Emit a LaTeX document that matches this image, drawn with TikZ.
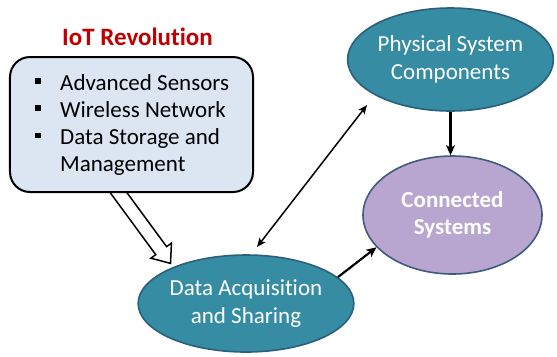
\documentclass[tikz,border=0pt]{standalone}
\usepackage{fontspec}
\setmainfont{Carlito}[RawFeature={-liga;-clig;-dlig}]
\usetikzlibrary{arrows.meta,shapes.geometric,shapes.arrows,calc}

\definecolor{tealfill}{HTML}{358CA3}
\definecolor{tealedge}{HTML}{2A5F7E}
\definecolor{lavfill}{HTML}{B8A6D0}
\definecolor{lavedge}{HTML}{3F5B80}
\definecolor{boxfill}{HTML}{DCE6F2}
\definecolor{titlered}{HTML}{C00000}

\tikzset{
  bubble/.style={ellipse, draw=tealedge, fill=tealfill, line width=1.6bp,
    text=white, align=center, inner sep=0pt,
    font=\fontsize{23bp}{28bp}\selectfont},
  listline/.style={anchor=base west, inner sep=0pt,
    font=\fontsize{23bp}{28bp}\selectfont},
  link/.style={line width=2.2bp, -{Stealth[length=10bp,width=9bp,inset=2.5bp]}},
  thinlink/.style={line width=1.5bp, {Stealth[length=9bp,width=7.5bp,inset=2bp]}-{Stealth[length=9bp,width=7.5bp,inset=2bp]}},
}
\newcommand{\sqbul}{\makebox[25bp][l]{\rule[6.5bp]{5.5bp}{5.5bp}}}

\begin{document}
\begin{tikzpicture}[x=1bp,y=-1bp]
\useasboundingbox (0,0) rectangle (557,356);

% ellipses
\node[bubble, minimum width=205bp, minimum height=103bp] (phys) at (450.5,59.5)
  {Physical System\\Components};
\node[bubble, draw=lavedge, fill=lavfill, minimum width=179bp, minimum height=118bp,
  font=\fontsize{23bp}{27bp}\selectfont\bfseries] (conn) at (452.5,215)
  {Connected\\Systems};
\node[bubble, minimum width=208bp, minimum height=97bp] (data) at (246,303.5)
  {Data Acquisition\\and Sharing};

% hollow block arrow from the list box to the data node
\node[single arrow, draw=black, fill=white, line width=1.5bp,
  minimum height=93bp, inner xsep=0pt, inner ysep=6bp,
  single arrow head extend=6bp, single arrow tip angle=78,
  rotate=-53.7] (feed) at (140.5,222.5) {};

% list box
\node[draw=black, fill=boxfill, line width=2bp, rounded corners=20bp,
  minimum width=243bp, minimum height=135bp, inner sep=0pt] (box) at (131.5,124.5) {};
\node[font=\fontsize{25bp}{30bp}\selectfont\bfseries, text=titlered, anchor=base,
  inner sep=0pt] (title) at (137.5,45) {IoT Revolution};
\node[listline] (l1) at (35,90) {\sqbul Advanced Sensors};
\node[listline] (l2) at (35,117.3) {\sqbul Wireless Network};
\node[listline] (l3) at (35,144.6) {\sqbul Data Storage and};
\node[listline] (l4) at (60,171.9) {Management};

% connectors
\coordinate (dlow) at (257,247);
\coordinate (dhigh) at (367,105);
\draw[thinlink] (dlow) -- (dhigh);
\draw[link] (phys.south) -- (phys.south |- conn.north);
\draw[link] (data.16) -- (conn.203);
\end{tikzpicture}
\end{document}
